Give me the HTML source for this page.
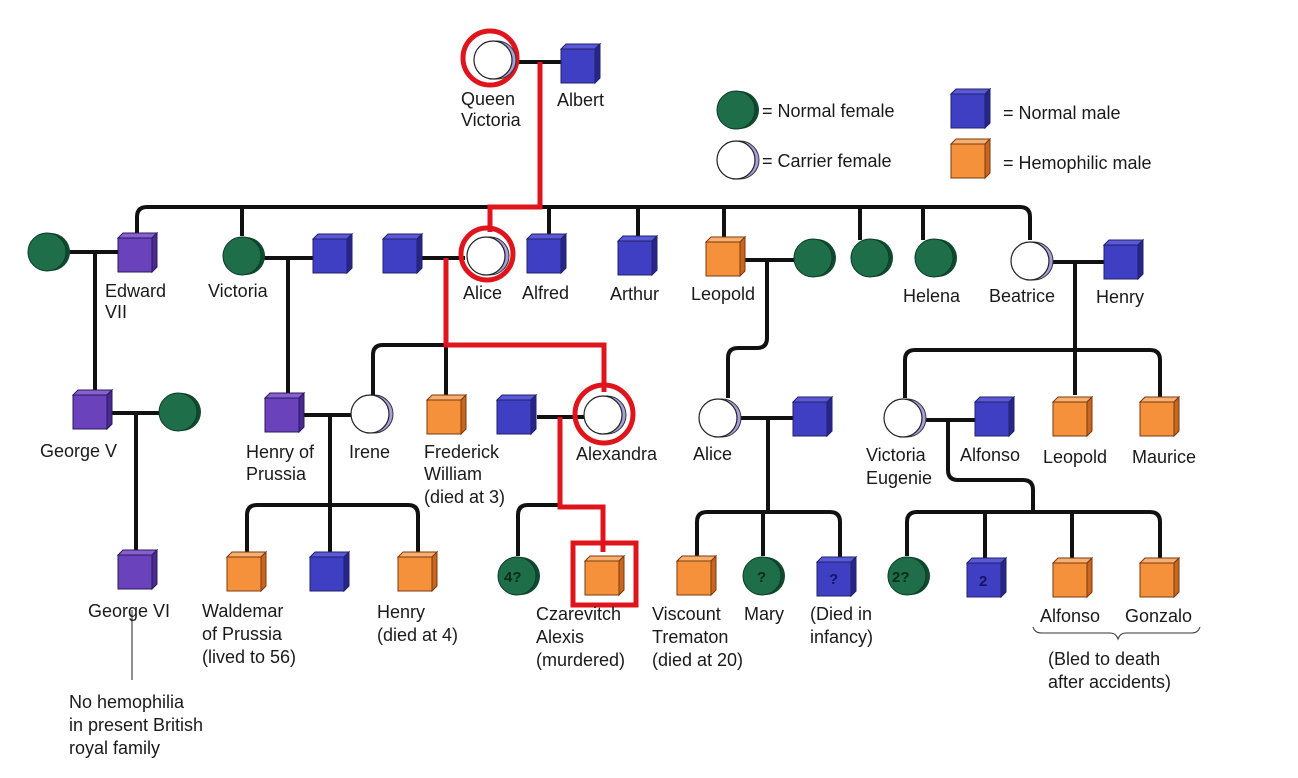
<!DOCTYPE html>
<html><head><meta charset="utf-8"><style>
html,body{margin:0;padding:0;background:#fff;}
svg{display:block;}
text{font-family:"Liberation Sans",sans-serif;font-size:18px;fill:#1a1a1a;}
</style></head><body>
<svg width="1298" height="778" viewBox="0 0 1298 778" xmlns="http://www.w3.org/2000/svg">
<defs>
<symbol id="bsq" overflow="visible"><polygon points="0,5 5,0 39,0 34,5" fill="#5a5ad8" stroke="#22226a" stroke-width="1"/><polygon points="34,5 39,0 39,34 34,39" fill="#26268a" stroke="#22226a" stroke-width="1"/><rect x="0" y="5" width="34" height="34" fill="#3f3fc4" stroke="#22226a" stroke-width="1"/></symbol>
<symbol id="psq" overflow="visible"><polygon points="0,5 5,0 39,0 34,5" fill="#8a60d0" stroke="#2a1a5a" stroke-width="1"/><polygon points="34,5 39,0 39,34 34,39" fill="#4a2a90" stroke="#2a1a5a" stroke-width="1"/><rect x="0" y="5" width="34" height="34" fill="#6a42bc" stroke="#2a1a5a" stroke-width="1"/></symbol>
<symbol id="osq" overflow="visible"><polygon points="0,5 5,0 39,0 34,5" fill="#f8b070" stroke="#7a3a10" stroke-width="1"/><polygon points="34,5 39,0 39,34 34,39" fill="#c8651e" stroke="#7a3a10" stroke-width="1"/><rect x="0" y="5" width="34" height="34" fill="#f5913a" stroke="#7a3a10" stroke-width="1"/></symbol>
<symbol id="gc" overflow="visible"><circle cx="24" cy="20" r="19" fill="#0f4a30"/><circle cx="20" cy="20" r="19" fill="#1f6e4a" stroke="#0d3a25" stroke-width="1"/></symbol>
<symbol id="cc" overflow="visible"><circle cx="24" cy="20" r="19" fill="#a8a0dc" stroke="#333" stroke-width="1"/><circle cx="20" cy="20" r="19" fill="#fff" stroke="#222" stroke-width="1.2"/></symbol>
</defs>
<g fill="none" stroke="#111" stroke-width="4">
<!-- top sibling line -->
<path d="M137,233 V217 Q137,207 147,207 H1020 Q1030,207 1030,217 V240"/>
<path d="M242,207V236 M549,207V236 M638,207V237 M724,207V238 M860,207V240 M923,207V240"/>
<path d="M515,62H561"/>
<!-- Edward -->
<path d="M67,252H118 M95,252V400"/>
<path d="M262,258H313 M288,258V395"/>
<path d="M420,258H465"/>
<path d="M743,260H795 M767,260V338 Q767,348 757,348 H738 Q728,348 728,358 V398"/>
<path d="M1050,262H1104 M1075,262V395"/>
<path d="M905,398V360 Q905,350 915,350 H1150 Q1160,350 1160,360 V398"/>
<!-- row 2 -->
<path d="M112,413H160 M136,413V552"/>
<path d="M304,415H351 M330,415V552"/>
<path d="M247,556V515 Q247,505 257,505 H408 Q418,505 418,515 V556"/>
<path d="M373,395V355 Q373,345 383,345 H446 V397"/>
<path d="M537,417H584"/>
<path d="M518,556V515 Q518,505 528,505 H562"/>
<path d="M738,418H793 M768,418V512 M763,512V556"/>
<path d="M697,556V522 Q697,512 707,512 H830 Q840,512 840,522 V558"/>
<path d="M923,420H975 M948,420V470 Q948,480 958,480 H1023 Q1033,480 1033,490 V512"/>
<path d="M907,556V522 Q907,512 917,512 H1150 Q1160,512 1160,522 V560 M985,512V560 M1072,512V560"/>
</g>
<path d="M132,610V680" stroke="#222" stroke-width="1"/>
<!-- red paths -->
<g fill="none" stroke="#e0141c" stroke-width="5">
<path d="M540,62V207H490V232"/>
<path d="M446,258V345H604V392"/>
<path d="M560,417V507H603V552"/>
<circle cx="490" cy="58" r="27"/>
<circle cx="487" cy="254" r="26"/>
<circle cx="604" cy="414" r="29"/>
<rect x="573" y="543" width="63" height="62"/>
</g>
<!-- shapes -->
<use href="#cc" x="473" y="40"/>
<use href="#bsq" x="561" y="44"/>
<use href="#gc" x="27" y="232"/>
<use href="#psq" x="118" y="233"/>
<use href="#gc" x="222" y="236"/>
<use href="#bsq" x="313" y="234"/>
<use href="#bsq" x="383" y="234"/>
<use href="#cc" x="466" y="236"/>
<use href="#bsq" x="527" y="234"/>
<use href="#bsq" x="618" y="236"/>
<use href="#osq" x="706" y="237"/>
<use href="#gc" x="793" y="238"/>
<use href="#gc" x="850" y="238"/>
<use href="#gc" x="914" y="238"/>
<use href="#cc" x="1010" y="241"/>
<use href="#bsq" x="1104" y="240"/>
<use href="#psq" x="73" y="390"/>
<use href="#gc" x="158" y="392"/>
<use href="#psq" x="265" y="393"/>
<use href="#cc" x="350" y="394"/>
<use href="#osq" x="427" y="395"/>
<use href="#bsq" x="497" y="395"/>
<use href="#cc" x="583" y="395"/>
<use href="#cc" x="698" y="398"/>
<use href="#bsq" x="793" y="397"/>
<use href="#cc" x="883" y="398"/>
<use href="#bsq" x="975" y="397"/>
<use href="#osq" x="1053" y="397"/>
<use href="#osq" x="1140" y="397"/>
<use href="#psq" x="118" y="550"/>
<use href="#osq" x="227" y="552"/>
<use href="#bsq" x="310" y="552"/>
<use href="#osq" x="398" y="552"/>
<use href="#gc" x="497" y="556"/>
<use href="#osq" x="585" y="556"/>
<use href="#osq" x="677" y="556"/>
<use href="#gc" x="742" y="556"/>
<use href="#bsq" x="817" y="557"/>
<use href="#gc" x="887" y="556"/>
<use href="#bsq" x="967" y="558"/>
<use href="#osq" x="1053" y="558"/>
<use href="#osq" x="1140" y="558"/>
<!-- legend -->
<use href="#gc" x="716" y="90"/>
<use href="#cc" x="716" y="140"/>
<use href="#bsq" x="951" y="89"/>
<use href="#osq" x="951" y="139"/>
<text x="762" y="117">= Normal female</text>
<text x="762" y="167">= Carrier female</text>
<text x="1003" y="119">= Normal male</text>
<text x="1003" y="169">= Hemophilic male</text>
<!-- marks in shapes -->
<g style="font-weight:bold;font-size:15px">
<text x="504" y="582" style="fill:#0a2a1a;font-weight:bold;font-size:15px">4?</text>
<text x="757" y="582" style="fill:#0a2a1a;font-weight:bold;font-size:15px">?</text>
<text x="829" y="584" style="fill:#151560;font-weight:bold;font-size:15px">?</text>
<text x="892" y="582" style="fill:#0a2a1a;font-weight:bold;font-size:15px">2?</text>
<text x="979" y="586" style="fill:#151560;font-weight:bold;font-size:15px">2</text>
</g>
<!-- labels -->
<text x="461" y="105">Queen</text><text x="461" y="126">Victoria</text>
<text x="557" y="106">Albert</text>
<text x="105" y="297">Edward</text><text x="105" y="318">VII</text>
<text x="208" y="297">Victoria</text>
<text x="463" y="299">Alice</text>
<text x="522" y="299">Alfred</text>
<text x="610" y="300">Arthur</text>
<text x="691" y="300">Leopold</text>
<text x="903" y="302">Helena</text>
<text x="989" y="302">Beatrice</text>
<text x="1096" y="303">Henry</text>
<text x="40" y="457">George V</text>
<text x="246" y="458">Henry of</text><text x="246" y="480">Prussia</text>
<text x="349" y="458">Irene</text>
<text x="424" y="458">Frederick</text><text x="424" y="480">William</text><text x="424" y="503">(died at 3)</text>
<text x="576" y="460">Alexandra</text>
<text x="693" y="460">Alice</text>
<text x="866" y="461">Victoria</text><text x="866" y="484">Eugenie</text>
<text x="960" y="461">Alfonso</text>
<text x="1043" y="463">Leopold</text>
<text x="1132" y="463">Maurice</text>
<text x="88" y="617">George VI</text>
<text x="202" y="617">Waldemar</text><text x="202" y="640">of Prussia</text><text x="202" y="663">(lived to 56)</text>
<text x="377" y="618">Henry</text><text x="377" y="641">(died at 4)</text>
<text x="536" y="620">Czarevitch</text><text x="536" y="643">Alexis</text><text x="536" y="666">(murdered)</text>
<text x="652" y="620">Viscount</text><text x="652" y="643">Trematon</text><text x="652" y="666">(died at 20)</text>
<text x="744" y="620">Mary</text>
<text x="810" y="620">(Died in</text><text x="810" y="643">infancy)</text>
<text x="1040" y="622">Alfonso</text>
<text x="1125" y="622">Gonzalo</text>
<path d="M1033,627 q2,6 8,6 H1110 q6,0 8,6 q2,-6 8,-6 H1192 q6,0 8,-6" fill="none" stroke="#333" stroke-width="1"/>
<text x="1048" y="665">(Bled to death</text><text x="1048" y="688">after accidents)</text>
<text x="69" y="708">No hemophilia</text><text x="69" y="731">in present British</text><text x="69" y="754">royal family</text>
</svg>
</body></html>
